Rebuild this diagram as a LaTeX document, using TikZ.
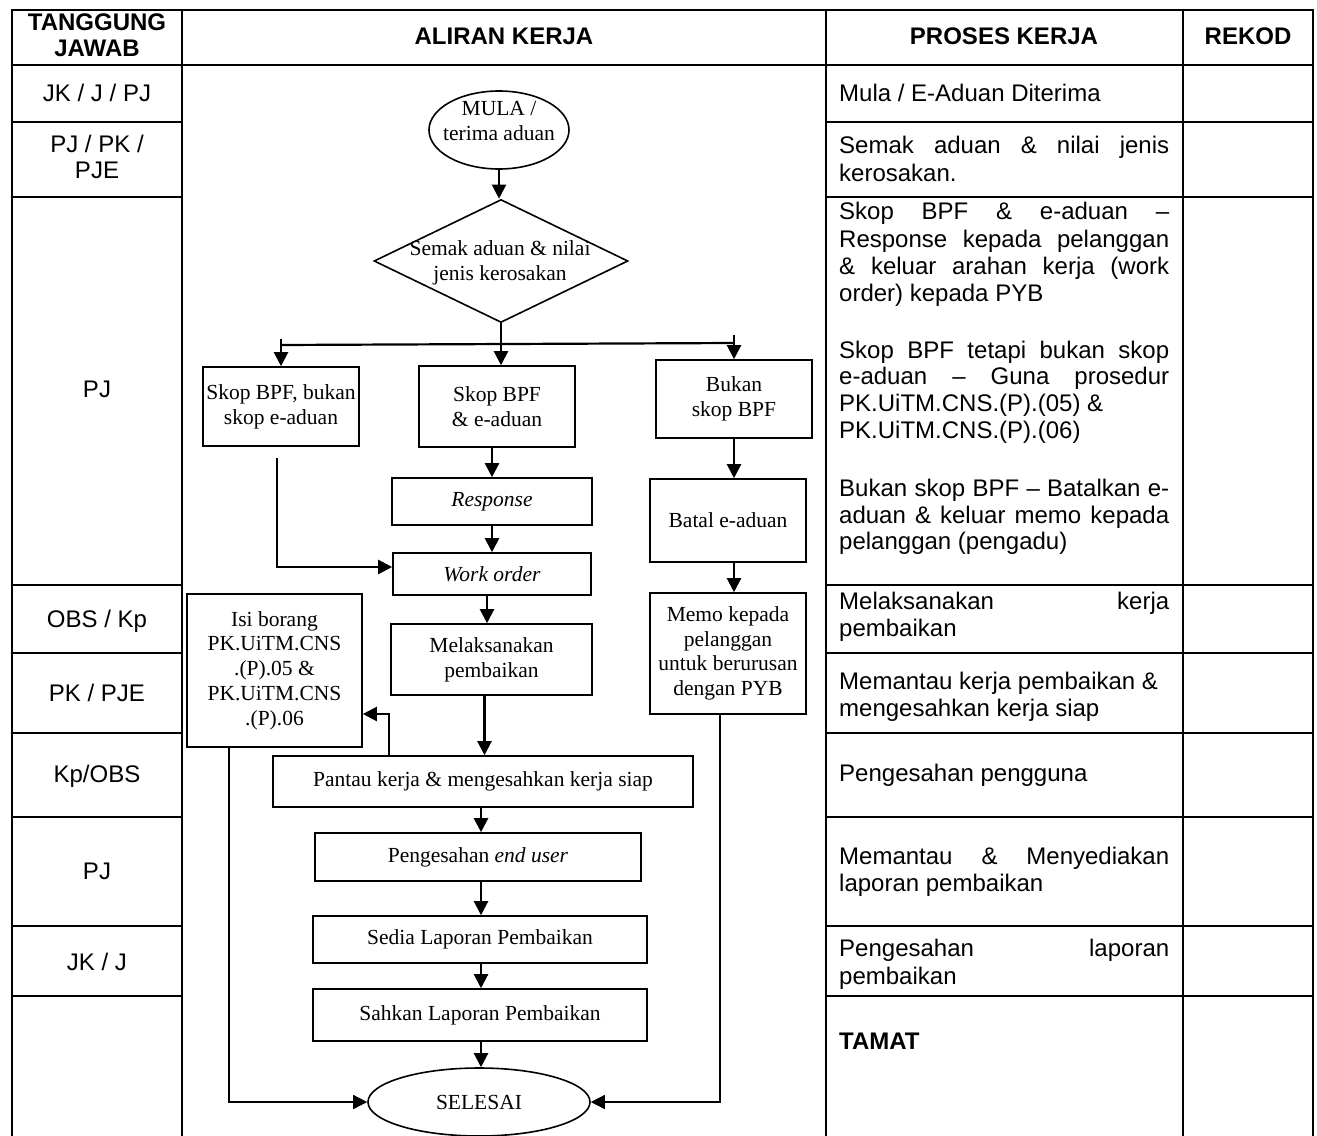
\documentclass[tikz,border=0pt]{standalone}
\usepackage{fontspec}
\setmainfont{Liberation Serif}
\newfontfamily\arialf{Liberation Sans}
\usetikzlibrary{shapes.geometric,arrows.meta}
\newcommand\tblfont{\arialf\fontsize{24}{27.5}\selectfont}
\newcommand\flowfont{\fontsize{21.5}{24.7}\selectfont}
\newcommand\jl[1]{\makebox[330pt][s]{#1}}
\begin{document}
\begin{tikzpicture}[x=1pt,y=-1pt,
  tbl/.style={line width=1.8pt},
  lc/.style={inner sep=0pt,font=\tblfont,text height=17pt,text depth=5pt},
  pt/.style={anchor=west,inner sep=0pt,font=\tblfont,text height=17pt,text depth=5pt},
  box/.style={draw,line width=1.6pt,inner sep=0pt,align=center,font=\flowfont},
  ell/.style={draw,ellipse,line width=1.6pt,inner sep=0pt,font=\flowfont},
  dia/.style={draw,diamond,line width=1.6pt,inner sep=0pt},
  ft/.style={inner sep=0pt,align=center,font=\flowfont},
  arr/.style={line width=2.2pt,-{Triangle[length=14pt,width=14pt]}},
  thinarr/.style={line width=1.5pt,-{Triangle[length=14pt,width=14pt]}},
  ln/.style={line width=2.2pt}]
\useasboundingbox (0,0) rectangle (1317,1135);
\fill[white] (0,0) rectangle (1317,1135);
% table
\draw[tbl] (12,1140) -- (12,10) -- (1313,10) -- (1313,1140);
\draw[tbl] (182,10) -- (182,1140);
\draw[tbl] (826,10) -- (826,1140);
\draw[tbl] (1183,10) -- (1183,1140);
\draw[tbl] (12,65) -- (1313,65);
\foreach \yy in {122,197,585,653,733,817,926,996}{
  \draw[tbl] (12,\yy) -- (182,\yy);
  \draw[tbl] (826,\yy) -- (1313,\yy);
}
% headers
\node[lc] (h1a) at (97,24) {\bfseries TANGGUNG};
\node[lc] (h1b) at (97,50) {\bfseries JAWAB};
\node[lc] (h2) at (504,38) {\bfseries ALIRAN KERJA};
\node[lc] (h3) at (1004,38) {\bfseries PROSES KERJA};
\node[lc] (h4) at (1248,38) {\bfseries REKOD};
% left column
\node[lc] (t1) at (97,95) {JK / J / PJ};
\node[lc] (t2a) at (97,146) {PJ / PK /};
\node[lc] (t2b) at (97,172) {PJE};
\node[lc] (t3) at (97,391) {PJ};
\node[lc] (t4) at (97,621) {OBS / Kp};
\node[lc] (t5) at (97,695) {PK / PJE};
\node[lc] (t6) at (97,776) {Kp/OBS};
\node[lc] (t7) at (97,873) {PJ};
\node[lc] (t8) at (97,964) {JK / J};
% process column
\node[pt] (p1) at (839,95) {Mula / E-Aduan Diterima};
\node[pt] (p2a) at (839,147) {\jl{Semak aduan \& nilai jenis}};
\node[pt] (p2b) at (839,175) {kerosakan.};
\node[pt] (p3a) at (839,213) {\jl{Skop BPF \& e-aduan –}};
\node[pt] (p3b) at (839,241) {\jl{Response kepada pelanggan}};
\node[pt] (p3c) at (839,268) {\jl{\& keluar arahan kerja (work}};
\node[pt] (p3d) at (839,295) {order) kepada PYB};
\node[pt] (p3e) at (839,352) {\jl{Skop BPF tetapi bukan skop}};
\node[pt] (p3f) at (839,378) {\jl{e-aduan – Guna prosedur}};
\node[pt] (p3g) at (839,405) {PK.UiTM.CNS.(P).(05) \&};
\node[pt] (p3h) at (839,432) {PK.UiTM.CNS.(P).(06)};
\node[pt] (p3i) at (839,490) {\jl{Bukan skop BPF – Batalkan e-}};
\node[pt] (p3j) at (839,517) {\jl{aduan \& keluar memo kepada}};
\node[pt] (p3k) at (839,543) {pelanggan (pengadu)};
\node[pt] (p4a) at (839,603) {\jl{Melaksanakan kerja}};
\node[pt] (p4b) at (839,630) {pembaikan};
\node[pt] (p5a) at (839,683) {Memantau kerja pembaikan \&};
\node[pt] (p5b) at (839,710) {mengesahkan kerja siap};
\node[pt] (p6) at (839,775) {Pengesahan pengguna};
\node[pt] (p7a) at (839,858) {\jl{Memantau \& Menyediakan}};
\node[pt] (p7b) at (839,885) {laporan pembaikan};
\node[pt] (p8a) at (839,950) {\jl{Pengesahan laporan}};
\node[pt] (p8b) at (839,978) {pembaikan};
\node[pt] (p9) at (839,1043) {\bfseries TAMAT};
% flowchart
\node[ell,minimum width=140pt,minimum height=78pt] (mula) at (499,130) {};
\node[ft] (mulat) at (499,121) {MULA /\\terima aduan};
\node[dia,minimum width=254pt,minimum height=123pt] (semak) at (501,261) {};
\node[ft] (semakt) at (500,263) {Semak aduan \& nilai\\jenis kerosakan};
\node[box,minimum width=156pt,minimum height=79pt] (skopA) at (281,406.5) {Skop BPF, bukan\\skop e-aduan};
\node[box,minimum width=156pt,minimum height=81pt] (skopB) at (497,406.5) {Skop BPF\\\& e-aduan};
\node[box,minimum width=156pt,minimum height=78pt] (bukan) at (734,399) {Bukan\\skop BPF};
\node[box,minimum width=200pt,minimum height=47pt] (resp) at (492,501.5) {\textit{Response}};
\node[box,minimum width=156pt,minimum height=83pt] (batal) at (728,520.5) {Batal e-aduan};
\node[box,minimum width=198pt,minimum height=42pt] (wo) at (492,574) {\textit{Work order}};
\node[box,minimum width=201pt,minimum height=71pt] (melak) at (491.5,659.5) {Melaksanakan\\pembaikan};
\node[box,minimum width=156pt,minimum height=121pt] (memo) at (728,653.5) {Memo kepada\\pelanggan\\untuk berurusan\\dengan PYB};
\node[box,minimum width=175pt,minimum height=153pt] (isi) at (274.5,670.5) {Isi borang\\PK.UiTM.CNS\\.(P).05 \&\\PK.UiTM.CNS\\.(P).06};
\node[box,minimum width=420pt,minimum height=51pt] (pantau) at (483,781.5) {Pantau kerja \& mengesahkan kerja siap};
\node[box,minimum width=326pt,minimum height=48pt] (peng) at (478,857) {Pengesahan \textit{end user}};
\node[box,minimum width=334pt,minimum height=47pt] (sedia) at (480,939.5) {Sedia Laporan Pembaikan};
\node[box,minimum width=334pt,minimum height=52pt] (sahkan) at (480,1015) {Sahkan Laporan Pembaikan};
\node[ell,minimum width=222pt,minimum height=68pt] (selesai) at (479,1102) {SELESAI};
% connectors
\coordinate (brL) at (281,345);
\coordinate (brR) at (734,343);
\coordinate (tL) at (281,339);
\coordinate (tR) at (734,335);
\coordinate (sa) at (277,458);
\coordinate (fb) at (389,714);
\coordinate (cx) at (481,0);
\draw[arr] (mula.south) -- (mula.south |- semak.north);
\draw[arr] (semak.south) -- (semak.south |- skopB.north);
\draw[ln] (brL) -- (brR);
\draw[arr] (tL) -- (skopA.north);
\draw[arr] (tR) -- (bukan.north);
\draw[arr] (resp.north |- skopB.south) -- (resp.north);
\draw[arr] (resp.south) -- (wo.north);
\draw[arr] (sa) |- ([yshift=7pt]wo.west);
\draw[arr] ([xshift=-5pt]wo.south) -- ([xshift=-5pt]wo.south |- melak.north);
\draw[arr] ([xshift=-7pt]melak.south) -- ([xshift=-7pt]melak.south |- pantau.north);
\draw[arr] (pantau.north -| fb) -- (fb) -- (fb -| isi.east);
\draw[thinarr] ([xshift=-45.5pt]isi.south) |- (selesai.west);
\draw[arr] (pantau.south -| cx) -- (peng.north -| cx);
\draw[arr] (peng.south -| cx) -- (sedia.north -| cx);
\draw[arr] (sedia.south -| cx) -- (sahkan.north -| cx);
\draw[arr] (sahkan.south -| cx) -- (selesai.north -| cx);
\draw[arr] (bukan.south -| tR) -- (batal.north -| tR);
\draw[arr] (batal.south -| tR) -- (memo.north -| tR);
\draw[thinarr] ([xshift=-8pt]memo.south) |- (selesai.east);
\end{tikzpicture}
\end{document}
